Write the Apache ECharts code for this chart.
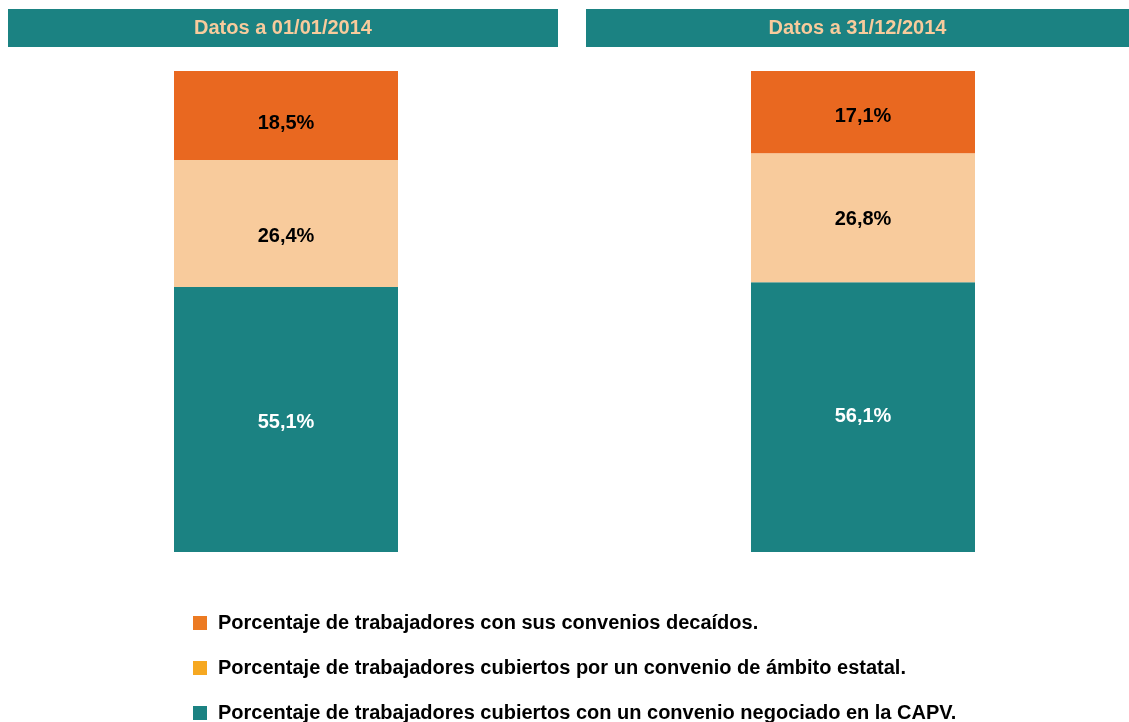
<!DOCTYPE html>
<html>
<head>
<meta charset="utf-8">
<script src="https://cdn.jsdelivr.net/npm/echarts@6/dist/echarts.min.js"></script>
<style>
  html, body { margin: 0; padding: 0; background: #fff; }
  #chart { width: 1129px; height: 722px; }
</style>
</head>
<body>
<div id="chart"></div>
<script>
// datos
const panels = ['Datos a 01/01/2014', 'Datos a 31/12/2014']
const capv = [55.1, 56.1]
const estatal = [26.4, 26.8]
const decaidos = [18.5, 17.1]

const names = [
  'Porcentaje de trabajadores cubiertos con un convenio negociado en la CAPV.',
  'Porcentaje de trabajadores cubiertos por un convenio de ámbito estatal.',
  'Porcentaje de trabajadores con sus convenios decaídos.',
]
const barColors = ['#1b8282', '#f8cb9c', '#e96820']
const legendColors = ['#1b8282', '#f6a821', '#ec7a22']
const labelColors = ['#ffffff', '#000000', '#000000']
const seriesValues = [capv, estatal, decaidos]

// ajuste fino de la posición vertical de las etiquetas (panel x serie)
const labelShift = [
  [3, 13, 8],
  [-1, 2, 4],
]

const FONT = '"Liberation Sans", Arial, Helvetica, sans-serif'
const fmt = (v) => v.toFixed(1).replace('.', ',') + '%'

const chart = echarts.init(document.getElementById('chart'))

const gridLefts = [174, 751]
const headers = [
  { x: 8, w: 550 },
  { x: 586, w: 543 },
]

const series = []
panels.forEach((p, pi) => {
  seriesValues.forEach((vals, si) => {
    series.push({
      name: names[si],
      type: 'bar',
      stack: 'p' + pi,
      xAxisIndex: pi,
      yAxisIndex: pi,
      barWidth: '100%',
      itemStyle: { color: barColors[si] },
      label: {
        show: true,
        position: 'inside',
        offset: [0, labelShift[pi][si]],
        color: labelColors[si],
        fontFamily: FONT,
        fontWeight: 'bold',
        fontSize: 20,
        formatter: (d) => fmt(d.value),
      },
      emphasis: { disabled: true },
      data: [vals[pi]],
    })
  })
})

const option = {
  animation: false,
  backgroundColor: '#ffffff',
  grid: gridLefts.map((l) => ({ left: l, width: 224, top: 71, height: 481 })),
  xAxis: panels.map((p, pi) => ({
    type: 'category',
    gridIndex: pi,
    data: [p],
    show: false,
  })),
  yAxis: panels.map((p, pi) => ({
    type: 'value',
    gridIndex: pi,
    min: 0,
    max: 100,
    show: false,
  })),
  legend: {
    orient: 'vertical',
    left: 188,
    top: 608,
    height: 200,
    itemWidth: 14,
    itemHeight: 14,
    itemGap: 25,
    icon: 'rect',
    selectedMode: false,
    textStyle: {
      fontFamily: FONT,
      fontWeight: 'bold',
      fontSize: 20,
      lineHeight: 20,
      color: '#000',
      padding: [0, 0, 0, 6],
    },
    data: [2, 1, 0].map((i) => ({
      name: names[i],
      itemStyle: { color: legendColors[i] },
    })),
  },
  graphic: headers.map((h, i) => ({
    type: 'rect',
    shape: { x: h.x, y: 9, width: h.w, height: 38 },
    style: { fill: '#1b8282' },
    textContent: {
      style: {
        text: panels[i],
        fill: '#f8cb9c',
        font: 'bold 20px ' + FONT,
      },
    },
    textConfig: { position: 'inside' },
  })),
  series,
}

chart.setOption(option)
</script>
</body>
</html>
